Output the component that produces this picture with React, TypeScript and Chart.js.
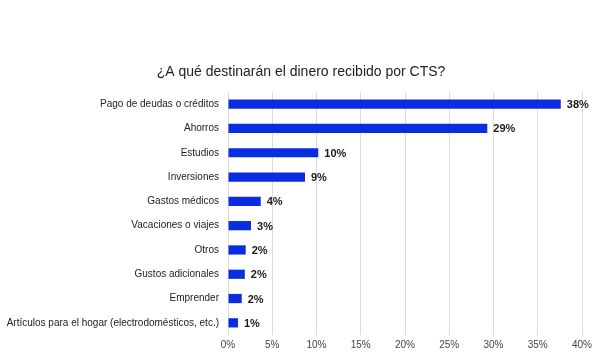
import React, { useEffect, useRef } from "react";
import { Chart, registerables } from "chart.js";

Chart.register(...registerables);

const TITLE = "¿A qué destinarán el dinero recibido por CTS?";
const categories = [
  "Pago de deudas o créditos",
  "Ahorros",
  "Estudios",
  "Inversiones",
  "Gastos médicos",
  "Vacaciones o viajes",
  "Otros",
  "Gustos adicionales",
  "Emprender",
  "Artículos para el hogar (electrodomésticos, etc.)",
];
const values = [37.6, 29.3, 10.2, 8.7, 3.7, 2.6, 2.0, 1.9, 1.55, 1.13];
const xTicks = [0, 5, 10, 15, 20, 25, 30, 35, 40];

const FONT = "'Liberation Sans', Arial, sans-serif";
const BAR_COLOR = "#0b2de2";

const valueLabels = {
  id: "valueLabels",
  afterDatasetsDraw(chart: any) {
    const ctx = chart.ctx;
    const meta = chart.getDatasetMeta(0);
    ctx.save();
    ctx.font = `bold 11px ${FONT}`;
    ctx.fillStyle = "#1a1a1a";
    ctx.textAlign = "left";
    ctx.textBaseline = "middle";
    meta.data.forEach((el: any, i: number) => {
      const v = chart.data.datasets[0].data[i] as number;
      ctx.fillText(`${Math.round(v)}%`, el.x + 6, el.y + 1);
    });
    ctx.restore();
  },
};

const centeredTitle = {
  id: "centeredTitle",
  afterDraw(chart: any) {
    const ctx = chart.ctx;
    ctx.save();
    ctx.font = `14px ${FONT}`;
    ctx.fillStyle = "#222";
    ctx.textAlign = "center";
    ctx.textBaseline = "middle";
    ctx.fillText(TITLE, chart.width / 2, 72);
    ctx.restore();
  },
};

export default function App() {
  const ref = useRef<HTMLCanvasElement | null>(null);
  useEffect(() => {
    if (!ref.current) return;
    const chart = new Chart(ref.current, {
      type: "bar",
      data: {
        labels: categories,
        datasets: [
          {
            data: values,
            backgroundColor: BAR_COLOR,
            borderWidth: 0,
            barPercentage: 0.38,
            categoryPercentage: 1,
          },
        ],
      },
      options: {
        indexAxis: "y",
        animation: false,
        responsive: false,
        maintainAspectRatio: false,
        layout: { padding: { left: 0, right: 20, top: 92, bottom: 0 } },
        plugins: {
          legend: { display: false },
          tooltip: { enabled: false },
          title: { display: false },
        },
        scales: {
          x: {
            min: 0,
            max: 40,
            afterBuildTicks: (scale: any) => {
              scale.ticks = xTicks.map((v) => ({ value: v }));
            },
            afterFit: (scale: any) => {
              scale.height = 20;
            },
            grid: {
              color: "#dcdcdc",
              lineWidth: 1,
              drawTicks: false,
            },
            border: { display: false },
            ticks: {
              color: "#444",
              font: { family: FONT, size: 10 },
              padding: 4,
              maxRotation: 0,
              callback: (v: any) => `${v}%`,
            },
          },
          y: {
            afterFit: (scale: any) => {
              scale.width = 228;
            },
            grid: { display: false, drawTicks: false },
            border: { display: false },
            ticks: {
              color: "#222",
              font: { family: FONT, size: 10 },
              padding: 9,
              autoSkip: false,
            },
          },
        },
      },
      plugins: [valueLabels, centeredTitle],
    });
    return () => chart.destroy();
  }, []);
  return (
    <div style={{ position: "fixed", left: 0, top: 0, width: 602, height: 355, background: "#fff" }}>
      <canvas ref={ref} width={602} height={355} style={{ width: 602, height: 355 }} />
    </div>
  );
}
